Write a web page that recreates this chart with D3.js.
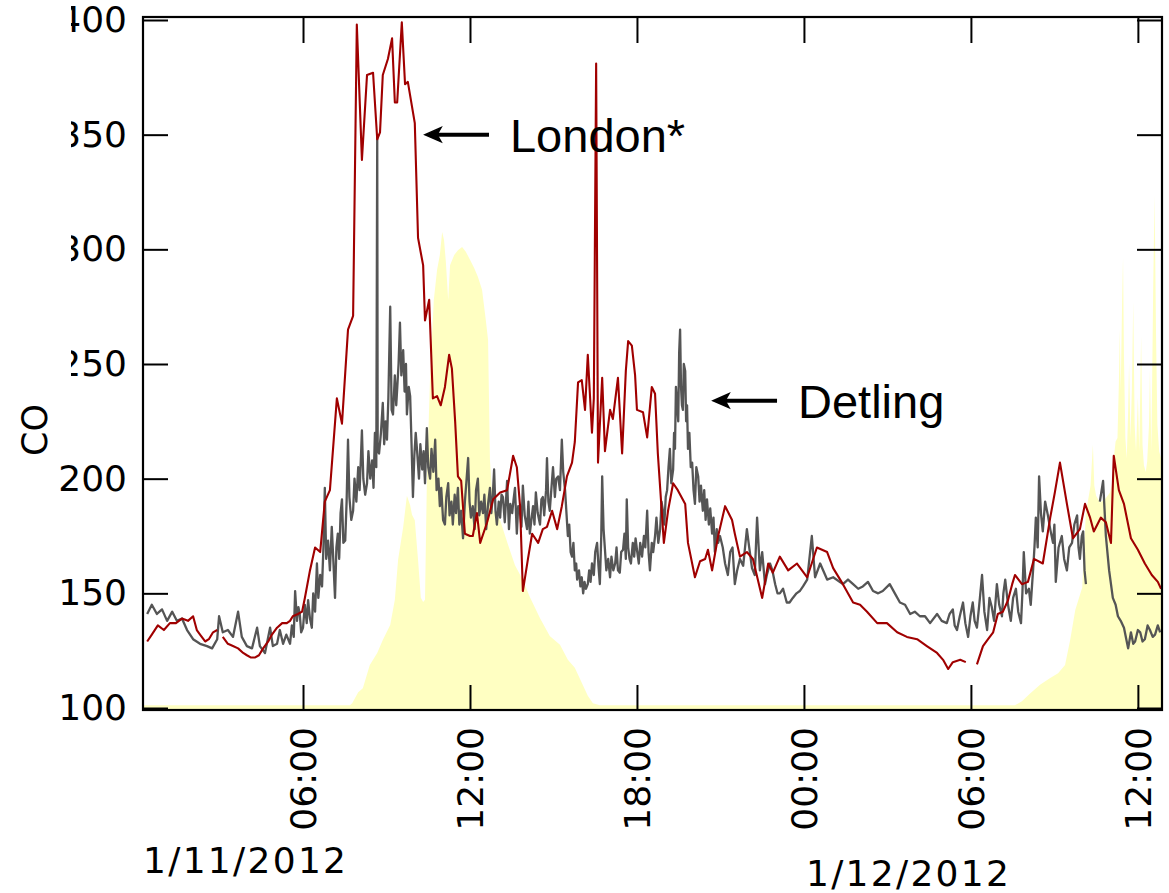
<!DOCTYPE html>
<html><head><meta charset="utf-8">
<script src="https://cdn.jsdelivr.net/npm/d3@7"></script>
<style>body{margin:0;background:#fff} svg{display:block}</style>
</head><body><svg id="chart" width="1169" height="893"></svg>
<script>
// minutes after 00:00 on 1/11/2012
const startDate = new Date(2012, 10, 1, 0, 0);
const domainMin = [15, 2212];
const coTicks = [100, 150, 200, 250, 300, 350, 400];
const timeTicksMin = [360, 720, 1080, 1440, 1800, 2160];
const dateLabels = ["1/11/2012", "1/12/2012"];
const dateLabelMin = [15, 1440];
const yLabel = "CO";
const seriesNames = ["London*", "Detling"];
const annotationAt = [[623, 350], [1244, 234]];

// London* CO: [minute, value]
const london = [[24,129],[34,132],[47,136],[60,134],[73,137],[86,137],[99,139],[112,138],[123,140],[131,134],[138,132],[149,129],[157,130],[166,133],[175,134],[180,null],[187,131],[198,128],[209,127],[220,126],[231,124],[239,123],[248,122],[256,122],[265,123],[274,126],[285,129],[293,132],[304,135],[315,137],[325,137],[332,138],[338,140],[349,141],[358,142],[364,148],[375,160],[386,170],[397,168],[407,190],[418,195],[433,235],[444,224],[457,265],[468,271],[476,398],[487,339],[498,376],[511,377],[520,348],[526,351],[532,376],[543,383],[552,392],[558,364],[563,364],[573,399],[580,372],[586,373],[601,355],[608,305],[619,293],[623,269],[632,278],[640,235],[649,236],[657,232],[666,240],[675,254],[681,248],[688,225],[694,201],[701,199],[709,176],[720,175],[726,175],[735,185],[742,172],[757,181],[770,191],[785,194],[800,195],[813,210],[821,205],[828,188],[834,151],[845,165],[854,176],[867,172],[877,178],[886,179],[897,186],[908,178],[918,188],[929,201],[940,207],[946,216],[953,242],[961,243],[968,230],[974,254],[983,220],[987,235],[992,381],[996,207],[1005,244],[1011,212],[1022,230],[1028,226],[1039,244],[1048,211],[1056,247],[1061,260],[1069,258],[1076,245],[1080,230],[1093,229],[1102,218],[1112,240],[1119,237],[1125,211],[1138,172],[1147,186],[1158,198],[1168,195],[1184,189],[1190,172],[1205,157],[1216,164],[1227,165],[1233,169],[1242,160],[1255,175],[1270,188],[1285,182],[1291,176],[1302,166],[1317,168],[1330,165],[1350,148],[1363,163],[1373,159],[1388,166],[1406,160],[1425,163],[1447,157],[1468,170],[1490,168],[1503,161],[1524,154],[1546,146],[1561,145],[1576,142],[1598,137],[1619,137],[1641,133],[1662,131],[1684,130],[1705,127],[1727,124],[1740,121],[1751,117],[1761,120],[1777,121],[1789,120],[1800,null],[1813,119],[1826,127],[1837,130],[1848,133],[1858,141],[1869,142],[1880,147],[1889,154],[1895,158],[1910,154],[1923,155],[1936,165],[1955,163],[1971,183],[1981,194],[1992,207],[2007,189],[2020,174],[2035,178],[2046,189],[2057,183],[2065,177],[2080,183],[2091,181],[2102,172],[2108,210],[2119,195],[2130,189],[2145,174],[2160,169],[2175,163],[2190,158],[2203,155],[2210,152]];

// Detling CO: [minute, value]
const detling = [[24,141],[34,145],[45,141],[56,143],[67,138],[78,142],[88,138],[99,139],[110,134],[123,130],[138,128],[153,127],[164,126],[175,130],[179,140],[187,133],[198,134],[209,131],[220,142],[228,131],[239,127],[250,126],[261,135],[267,127],[278,124],[289,135],[295,127],[304,128],[310,134],[317,128],[324,132],
[332,128],[336,136],[340,131],[343,151],[347,138],[350,144],[353,141],[356,133],[360,135],[364,145],[368,137],[371,147],[375,139],[379,135],[382,150],[386,142],[390,163],[393,148],[397,158],
[401,153],[404,170],[407,196],[410,165],[414,173],[418,160],[422,179],[425,166],[429,148],[432,170],[435,176],[438,165],[441,185],[444,191],[447,172],[451,173],
[454,190],[457,217],[460,192],[464,182],[468,186],[471,200],[475,190],[479,205],[482,195],[485,210],[487,221],[490,200],[494,193],[498,198],[501,212],[505,200],[509,208],[512,196],[515,220],[518,205],[520,349],[521,212],[524,211],[528,220],[532,233],[535,215],[538,225],[541,217],[544,235],[548,275],[551,230],[554,228],[558,245],[561,232],[563,239],[566,250],[569,268],[572,245],[576,256],[579,238],[582,250],[584,228],[588,240],[591,236],[594,215],[597,192],[600,210],[603,220],[606,212],[610,200],[613,215],[617,204],[620,212],[623,198],[627,222],[630,205],[634,200],[637,213],[641,203],[645,217],[648,195],[652,200],[655,188],
[658,196],[662,182],[666,180],[669,192],[673,198],[676,184],[680,190],[683,180],[687,193],[690,185],[694,196],[697,180],[701,186],[705,174],[709,190],[712,198],[716,209],[719,190],[722,183],[726,188],[730,178],[733,195],[737,200],[740,184],[744,190],[748,185],[751,193],[755,178],[759,189],[763,196],[766,185],[769,192],[772,204],[775,186],[778,180],[782,190],[785,183],[788,193],[791,192],[795,181],[800,199],[804,178],[807,189],[811,185],[814,191],[817,196],[821,176],[824,188],[828,185],[831,179],[834,197],[838,184],[843,178],[846,190],[849,176],[853,183],[856,188],[859,180],[862,194],[866,185],[871,180],[874,191],[877,192],[880,184],[884,195],[886,209],[889,190],[892,186],[896,197],[899,205],[903,192],[906,200],[910,201],[914,195],[918,217],[921,203],[925,195],[928,185],
[931,175],[934,180],[937,168],[940,166],[943,172],[946,160],[949,163],[951,156],[955,160],[958,153],[961,157],[964,150],[967,155],[970,152],[974,154],[977,160],[980,155],[983,163],[987,158],[990,168],[994,172],[997,162],[1000,154],
[1003,175],[1005,201],[1008,178],[1011,169],[1014,160],[1018,165],[1022,157],[1025,166],[1029,160],[1033,163],[1036,170],[1039,160],[1043,159],[1046,168],[1050,169],[1053,176],[1056,165],[1058,191],[1061,170],[1064,165],[1067,163],[1071,172],[1074,166],[1077,174],[1080,169],[1084,163],[1087,172],[1091,166],[1095,175],[1098,170],[1102,186],[1105,168],[1108,160],[1112,172],[1115,168],[1119,175],[1122,183],[1126,172],[1130,178],
[1133,190],[1136,186],[1139,180],[1142,192],[1145,195],[1148,205],[1151,213],[1154,198],[1158,204],[1160,220],[1162,213],[1164,240],[1166,234],[1169,225],[1171,255],[1173,265],[1175,240],[1177,232],[1179,230],[1181,250],[1184,247],[1186,225],[1188,232],[1190,213],
[1193,220],[1196,205],[1199,207],[1202,195],[1205,189],[1208,205],[1212,201],[1215,190],[1218,197],[1222,186],[1225,195],[1228,182],[1231,191],[1235,180],[1238,187],[1242,176],[1245,183],[1248,168],[1252,178],[1255,172],[1259,175],
[1265,170],[1270,163],[1276,158],[1281,168],[1286,170],[1291,154],[1296,160],[1302,165],[1309,162],[1317,178],[1322,170],[1328,161],[1334,158],[1339,183],[1345,160],[1350,168],[1356,154],[1360,158],[1367,163],[1372,160],[1378,154],[1383,150],[1388,150],[1395,152],[1403,146],[1409,146],[1416,148],[1424,150],[1431,151],[1438,153],
[1447,156],[1457,175],[1464,157],[1475,163],[1490,156],[1503,157],[1524,154],[1535,156],[1546,154],[1557,152],[1567,153],[1578,155],[1589,151],[1600,150],[1610,151],[1625,154],[1636,150],[1647,146],[1658,145],[1669,141],[1679,142],[1690,140],[1701,140],[1712,137],[1727,141],[1737,138],
[1748,137],[1754,141],[1761,143],[1765,136],[1770,134],[1776,140],[1783,146],[1788,137],[1794,131],[1799,140],[1804,146],[1808,138],[1813,135],[1818,145],[1824,158],[1829,142],[1835,134],[1840,148],[1845,144],[1850,138],[1856,154],[1861,145],[1867,140],[1870,150],[1874,156],[1880,145],[1886,138],[1891,148],[1897,152],[1902,142],[1908,137],[1911,150],[1914,168],[1919,150],[1925,152],[1929,145],[1934,160],[1937,170],[1940,183],[1944,170],[1947,201],[1951,185],[1955,177],[1960,190],[1966,184],[1971,178],[1977,172],[1980,180],[1983,155],[1989,170],[1996,175],[2001,165],[2007,160],[2012,170],[2018,172],[2023,180],[2029,184],[2032,170],[2035,165],[2039,175],[2042,177],[2045,160],[2048,154],[2060,null],
[2078,190],[2085,199],[2091,175],[2098,160],[2106,148],[2112,145],[2117,140],[2123,138],[2130,135],[2135,130],[2139,126],[2145,133],[2150,128],[2154,129],[2160,134],[2165,133],[2170,129],[2175,130],[2181,136],[2186,134],[2192,131],[2197,132],[2203,136],[2208,133]];

// background radiation-like shading (arbitrary units): [minute, value]
const radiation = [[15,7],[461,7],[466,10],[479,26],[489,32],[504,66],[520,84],[532,103],[548,125],[558,162],[565,221],[576,269],[584,315],[591,301],[595,287],[601,279],[608,221],[614,165],[619,159],[623,162],[627,335],[634,491],[642,603],[649,647],[655,669],[660,703],[664,691],[668,659],[673,603],[677,654],[686,669],[694,676],[703,681],[711,674],[720,662],[729,650],[737,637],[746,618],[754,574],[759,544],[763,368],[770,294],[785,279],[802,243],[817,213],[834,191],[849,166],[871,135],[892,109],[914,96],[931,74],[946,62],[961,40],[974,21],[985,10],[1000,7],
[1895,7],[1910,13],[1927,24],[1949,37],[1971,47],[1988,54],[2003,66],[2014,103],[2025,147],[2035,169],[2040,180],[2044,240],[2048,290],[2053,310],[2058,330],[2063,390],[2066,330],[2070,315],[2078,305],[2089,310],[2100,320],[2105,335],[2108,370],[2112,395],[2116,400],[2119,480],[2121,560],[2123,470],[2126,600],[2128,665],[2130,520],[2133,400],[2136,370],[2139,440],[2141,510],[2144,400],[2147,470],[2150,600],[2153,420],[2156,380],[2160,460],[2163,380],[2167,550],[2170,390],[2173,360],[2177,350],[2180,365],[2184,420],[2186,500],[2189,380],[2193,620],[2196,757],[2199,560],[2202,420],[2206,380],[2210,370]];

const svg = d3.select("#chart");
const L = 143, R = 1162, T = 17, B = 710;
const toDate = mm => new Date(startDate.getTime() + mm * 60000);
const x = d3.scaleTime().domain(domainMin.map(toDate)).range([L, R]);
const y = d3.scaleLinear().domain([100, 400]).range([708, 20]);
const yR = d3.scaleLinear().domain([0, 1000]).range([B, 30]);

svg.append("rect").attr("width", 1169).attr("height", 893).attr("fill", "#fff");
svg.append("defs").append("clipPath").attr("id", "plot")
  .append("rect").attr("x", L).attr("y", T).attr("width", R - L).attr("height", B - T);

const plot = svg.append("g").attr("clip-path", "url(#plot)");
plot.append("path").datum(radiation)
  .attr("fill", "#ffffc2").attr("stroke", "none")
  .attr("d", d3.area().x(d => x(toDate(d[0]))).y0(yR(0)).y1(d => yR(d[1])));

const line = d3.line().defined(d => d[1] !== null)
  .x(d => x(toDate(d[0]))).y(d => y(d[1]));
plot.append("path").datum(detling).attr("fill", "none")
  .attr("stroke", "#555555").attr("stroke-width", 2.3).attr("stroke-linejoin", "round").attr("d", line);
plot.append("path").datum(london).attr("fill", "none")
  .attr("stroke", "#a00000").attr("stroke-width", 2.1).attr("stroke-linejoin", "round").attr("d", line);

const font = "DejaVu Sans, sans-serif";
function styleAxis(g) {
  g.select(".domain").remove();
  g.selectAll(".tick line").attr("stroke", "#000").attr("stroke-width", 2);
  g.selectAll("text").attr("fill", "#000").style("font-family", font).style("font-size", "36px");
}
const timeTicks = timeTicksMin.map(toDate);

svg.append("g").attr("transform", `translate(${L},0)`)
  .call(d3.axisLeft(y).tickValues(coTicks).tickSize(-25).tickPadding(16).tickFormat(d3.format("d")))
  .call(styleAxis);
svg.append("g").attr("transform", `translate(${R},0)`)
  .call(d3.axisRight(y).tickValues(coTicks).tickSize(-25).tickFormat(""))
  .call(styleAxis);
svg.append("g").attr("transform", `translate(0,${T})`)
  .call(d3.axisTop(x).tickValues(timeTicks).tickSize(-26).tickFormat(""))
  .call(styleAxis);
const xb = svg.append("g").attr("transform", `translate(0,${B})`)
  .call(d3.axisBottom(x).tickValues(timeTicks).tickSize(-25).tickFormat(d3.timeFormat("%H:%M")))
  .call(styleAxis);
xb.selectAll(".tick text")
  .attr("transform", "rotate(-90)").attr("x", -17).attr("y", 0).attr("dy", "0.36em")
  .style("text-anchor", "end");

// frame
svg.append("rect").attr("x", L).attr("y", T).attr("width", R - L).attr("height", B - T)
  .attr("fill", "none").attr("stroke", "#000").attr("stroke-width", 2.2);

// cropped left margin as in the reference
svg.append("rect").attr("x", 0).attr("y", 0).attr("width", 71).attr("height", 392).attr("fill", "#fff");

svg.append("text").attr("transform", "translate(34,430) rotate(-90)")
  .attr("text-anchor", "middle").attr("dy", "0.36em")
  .style("font-family", font).style("font-size", "35px").text(yLabel);

svg.append("text").attr("x", x(toDate(dateLabelMin[0]))).attr("y", 873)
  .style("font-family", font).style("font-size", "36px").style("letter-spacing", "2.3px").text(dateLabels[0]);
svg.append("text").attr("x", x(toDate(dateLabelMin[1])) + 2).attr("y", 886)
  .style("font-family", font).style("font-size", "36px").style("letter-spacing", "2.3px").text(dateLabels[1]);

// annotations
seriesNames.forEach((name, i) => {
  const tx = x(toDate(annotationAt[i][0])), ty = y(annotationAt[i][1]);
  const g = svg.append("g");
  g.append("line").attr("x1", tx + 10).attr("x2", tx + 64).attr("y1", ty).attr("y2", ty)
    .attr("stroke", "#000").attr("stroke-width", 4);
  g.append("path").attr("d", `M${tx},${ty} L${tx + 16},${ty - 7} L${tx + 12},${ty} L${tx + 16},${ty + 7} Z`)
    .attr("fill", "#000").attr("stroke", "#000").attr("stroke-width", 1.5).attr("stroke-linejoin", "miter");
  g.append("text").attr("x", tx + 85).attr("y", ty).attr("dy", "0.36em")
    .style("font-family", "Liberation Sans, Arial, sans-serif").style("font-size", "47px").text(name);
});
</script></body></html>
